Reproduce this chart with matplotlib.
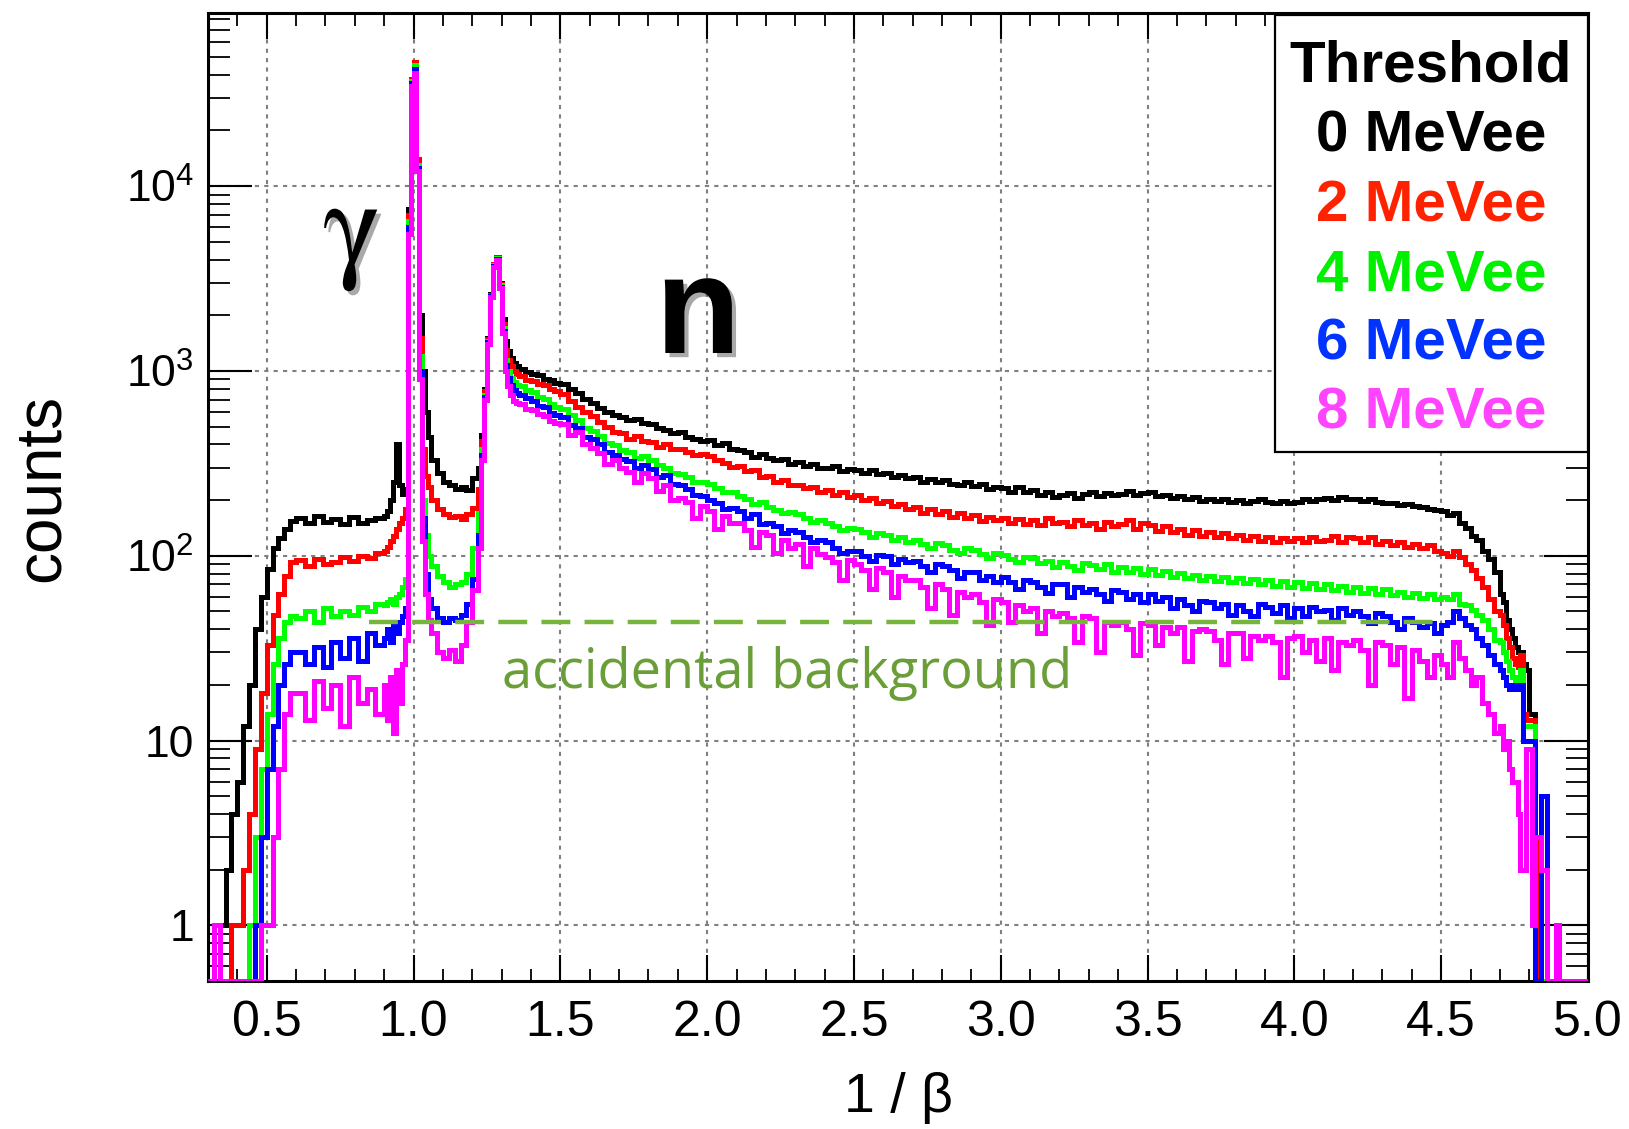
import numpy as np
import matplotlib
matplotlib.use('Agg')
import matplotlib.pyplot as plt
import matplotlib.patheffects as pe
from matplotlib.patches import Rectangle
from matplotlib.ticker import (FixedLocator, FixedFormatter, MultipleLocator,
                               LogLocator, NullFormatter, FormatStrFormatter)

plt.rcParams['font.family'] = ['Liberation Sans', 'DejaVu Sans']
plt.rcParams['mathtext.fontset'] = 'custom'
plt.rcParams['mathtext.rm'] = 'Liberation Sans'


def seg(a, b, n):
    return list(np.linspace(a, b, n, endpoint=False))


# 1/beta binning: finer bins around the gamma flash and the neutron peak
bin_edges = np.array(seg(0.30, 0.60, 15) + seg(0.60, 0.90, 10) + seg(0.90, 1.06, 16)
                     + seg(1.06, 1.22, 8) + seg(1.22, 1.36, 14) + seg(1.36, 1.50, 7)
                     + seg(1.50, 4.50, 120) + seg(4.50, 4.70, 10) + seg(4.70, 4.92, 22)
                     + [4.92, 5.00])

thresholds = [0, 2, 4, 6, 8]

counts_0mevee = [
    0, 1, 1, 2, 4, 6, 12, 20, 40, 60, 85, 110, 125, 140, 155,
    160, 150, 165, 152, 158, 148, 162, 150, 156, 160,
    165, 175, 200, 250, 400, 240, 215, 230, 7500, 37000, 44000, 14000, 2000, 1000, 600, 440,
    330, 280, 250, 240, 230, 235, 228, 265,
    300, 450, 800, 1500, 2600, 3800, 4150, 3000, 1900, 1450, 1280, 1180, 1110, 1060,
    1030, 985, 965, 950, 905, 895, 865,
    850, 800, 760, 705, 670, 630, 600, 575, 565, 540, 548, 520, 515, 490, 478, 462,
    465, 440, 430, 418, 425, 398, 405, 380, 372, 365, 342, 355, 340, 328, 335, 312,
    320, 306, 314, 300, 298, 305, 288, 296, 290, 282, 291, 276, 280, 268, 275, 262,
    266, 252, 260, 250, 256, 245, 240, 250, 238, 244, 230, 236, 232, 222, 236, 220,
    226, 214, 220, 208, 212, 218, 206, 216, 222, 210, 218, 214, 216, 224, 212, 218,
    220, 210, 214, 206, 210, 202, 208, 198, 204, 198, 202, 196, 200, 194, 198, 202,
    196, 192, 198, 194, 196, 202, 198, 204, 206, 200, 208, 204, 202, 198, 204, 196,
    194, 192, 188, 190, 186, 184, 180, 176,
    174, 166, 170, 150, 142, 128, 122, 106, 96, 82,
    62, 56, 45, 40, 36, 32, 30, 30, 26, 24, 14, 14, 0, 0, 0, 0, 0, 0, 0, 0, 0, 0,
    0,
]

counts_2mevee = [
    0, 0, 0, 0, 1, 1, 2, 4, 9, 18, 33, 48, 62, 78, 92,
    95, 88, 96, 90, 92, 98, 94, 100, 97, 104,
    106, 112, 120, 128, 140, 150, 160, 180, 7000, 38000, 47000, 14000, 1500, 380, 270, 235,
    200, 180, 168, 162, 165, 158, 168, 182,
    230, 420, 780, 1480, 2580, 3780, 4150, 2950, 1800, 1300, 1150, 1060, 1000, 960,
    935, 895, 880, 845, 835, 795, 775,
    750, 690, 640, 600, 570, 530, 500, 470, 462, 430, 445, 418, 415, 388, 402, 376,
    380, 362, 350, 356, 345, 328, 318, 302, 305, 286, 290, 268, 270, 252, 256, 240,
    242, 232, 236, 222, 228, 214, 222, 208, 212, 200, 206, 194, 198, 186, 190, 178,
    184, 170, 178, 168, 174, 162, 170, 160, 166, 154, 162, 156, 160, 150, 158, 148,
    156, 146, 160, 150, 152, 144, 156, 146, 150, 140, 152, 144, 148, 156, 140, 150,
    146, 136, 144, 134, 140, 130, 138, 128, 134, 126, 132, 124, 130, 122, 128, 120,
    126, 118, 124, 120, 124, 118, 126, 120, 122, 128, 118, 126, 124, 118, 126, 116,
    120, 114, 118, 112, 116, 110, 114, 106,
    104, 100, 106, 98, 90, 84, 76, 68, 58, 50,
    48, 42, 36, 32, 28, 26, 25, 29, 14, 13, 13, 13, 0, 3, 2, 2, 0, 0, 0, 0, 0, 0,
    0,
]

counts_4mevee = [
    0, 0, 0, 0, 0, 0, 0, 1, 3, 7, 14, 26, 36, 44, 47,
    46, 50, 44, 52, 47, 50, 48, 53, 50, 55,
    54, 56, 58, 55, 60, 62, 68, 75, 6500, 37000, 45000, 13000, 1200, 200, 130, 100,
    88, 78, 72, 68, 70, 72, 80, 110,
    170, 380, 740, 1450, 2550, 3750, 4100, 2900, 1700, 1150, 1000, 920, 870, 840,
    825, 785, 765, 725, 705, 665, 640,
    620, 575, 540, 490, 472, 445, 405, 395, 375, 362, 340, 345, 328, 310, 300, 280,
    278, 268, 250, 252, 244, 232, 220, 222, 210, 202, 190, 196, 184, 176, 170, 172,
    168, 160, 152, 156, 150, 145, 138, 142, 139, 134, 127, 132, 130, 122, 126, 118,
    121, 116, 110, 117, 114, 108, 104, 110, 107, 102, 97, 103, 101, 96, 92, 99,
    97, 91, 94, 87, 93, 88, 84, 91, 89, 85, 90, 82, 87, 82, 86, 80,
    85, 79, 83, 77, 81, 76, 79, 74, 78, 73, 77, 72, 76, 71, 75, 70,
    74, 69, 73, 68, 72, 67, 71, 66, 70, 65, 69, 64, 68, 63, 67, 62,
    66, 61, 64, 60, 63, 59, 62, 58,
    60, 58, 62, 55, 54, 51, 48, 45, 40, 35,
    34, 30, 27, 24, 22, 21, 21, 24, 12, 12, 12, 12, 0, 0, 0, 0, 0, 0, 0, 0, 0, 0,
    0,
]

counts_6mevee = [
    0, 0, 0, 0, 0, 0, 0, 0, 1, 3, 7, 12, 20, 26, 30,
    30, 26, 32, 25, 34, 28, 36, 27, 38, 33,
    36, 40, 34, 42, 38, 44, 47, 52, 6000, 36000, 43000, 12500, 1000, 160, 80, 58,
    52, 46, 44, 46, 45, 48, 55, 75,
    130, 350, 720, 1430, 2530, 3700, 4050, 2850, 1650, 1080, 920, 840, 790, 760,
    745, 710, 685, 645, 635, 595, 580,
    565, 510, 490, 440, 428, 400, 365, 352, 335, 325, 300, 310, 295, 268, 275, 245,
    242, 230, 212, 210, 200, 192, 178, 182, 174, 160, 168, 148, 150, 144, 132, 138,
    134, 126, 118, 122, 118, 110, 104, 106, 106, 100, 94, 101, 100, 90, 96, 92,
    94, 88, 82, 90, 88, 84, 76, 82, 82, 74, 78, 72, 77, 72, 66, 74,
    72, 68, 63, 70, 70, 60, 68, 64, 66, 62, 57, 65, 64, 58, 62, 56,
    62, 57, 60, 52, 58, 54, 50, 57, 56, 52, 55, 48, 54, 50, 47, 55,
    53, 49, 54, 46, 52, 47, 53, 50, 51, 45, 52, 48, 50, 47, 43, 49,
    47, 44, 40, 46, 44, 41, 43, 38,
    42, 44, 50, 46, 42, 40, 36, 33, 29, 26,
    24, 22, 20, 19, 20, 19, 20, 20, 10, 10, 10, 10, 0, 0, 5, 5, 0, 0, 0, 0, 0, 0,
    0,
]

counts_8mevee = [
    0, 1, 0, 0, 0, 0, 0, 0, 0, 1, 1, 3, 7, 14, 18,
    18, 13, 21, 15, 20, 12, 22, 16, 19, 14,
    20, 13, 22, 11, 24, 16, 26, 35, 5500, 35000, 41000, 12000, 900, 120, 62, 45,
    38, 30, 28, 31, 27, 33, 44, 65,
    110, 330, 700, 1400, 2500, 3650, 4000, 2800, 1600, 1000, 830, 740, 690, 670,
    665, 625, 615, 585, 570, 535, 525,
    515, 450, 470, 400, 385, 360, 315, 330, 300, 285, 250, 280, 262, 225, 240, 200,
    205, 195, 160, 185, 175, 140, 165, 150, 150, 138, 112, 135, 130, 104, 122, 110,
    116, 88, 110, 102, 98, 92, 74, 95, 90, 84, 66, 86, 82, 60, 78, 74,
    74, 68, 52, 70, 66, 48, 64, 60, 62, 56, 42, 58, 56, 44, 54, 50,
    52, 38, 50, 47, 49, 46, 34, 47, 46, 30, 44, 42, 44, 40, 29, 43,
    42, 33, 41, 38, 41, 27, 39, 40, 39, 35, 26, 38, 38, 28, 37, 35,
    37, 34, 22, 36, 37, 30, 35, 27, 36, 24, 34, 33, 35, 31, 20, 34,
    33, 26, 32, 17, 31, 27, 22, 29,
    26, 22, 34, 28, 24, 20, 22, 16, 14, 11,
    12, 9, 10, 7, 6, 6, 4, 2, 2, 9, 9, 1, 3, 3, 2, 2, 0, 0, 0, 1, 0, 0,
    0,
]

all_counts = [counts_0mevee, counts_2mevee, counts_4mevee, counts_6mevee, counts_8mevee]
line_colors = ['#000000', '#ff0000', '#00ff00', '#0000ff', '#ff00ff']
text_colors = ['#000000', '#ff2200', '#00f000', '#0033ff', '#ff44ff']

# flat accidental level under the spectra
accidental_level = 44
accidental_range = (0.85, 4.48)

W, H = 1629, 1129
YMIN, YMAX = 0.5, 8.7e4

fig = plt.figure(figsize=(W / 100, H / 100), dpi=100)
ax = fig.add_axes([208 / W, 1 - 981 / H, 1380 / W, 968.5 / H])


def fpos(x, y):
    # pixel position in the figure -> figure fraction
    return x / W, 1 - y / H


for counts, color in zip(all_counts, line_colors):
    vals = np.clip(np.asarray(counts, dtype=float), YMIN, None)
    ax.stairs(vals, bin_edges, baseline=None, color=color, lw=3.6, zorder=3)

ax.plot(accidental_range, [accidental_level] * 2, color='#77b43c', lw=3.2,
        dashes=(6.5, 3.2), zorder=4)

ax.set_yscale('log')
ax.set_xlim(0.3, 5.0)
ax.set_ylim(YMIN, YMAX)

ax.xaxis.set_major_locator(MultipleLocator(0.5))
ax.xaxis.set_minor_locator(MultipleLocator(0.1))
ax.xaxis.set_major_formatter(FormatStrFormatter('%.1f'))
ax.yaxis.set_major_locator(FixedLocator([1, 10, 100, 1000, 10000]))
ax.yaxis.set_major_formatter(FixedFormatter(['1', '10', r'$\mathregular{10^{2}}$',
                                             r'$\mathregular{10^{3}}$',
                                             r'$\mathregular{10^{4}}$']))
ax.yaxis.set_minor_locator(LogLocator(base=10, subs=np.arange(2, 10), numticks=20))
ax.yaxis.set_minor_formatter(NullFormatter())

ax.tick_params(axis='x', which='major', direction='in', length=19, width=1.5,
               top=True, bottom=True, pad=14, labelsize=36)
ax.tick_params(axis='x', which='minor', direction='in', length=9, width=1.3,
               top=True, bottom=True)
ax.tick_params(axis='y', which='major', direction='in', length=32, width=1.5,
               left=True, right=True, pad=10, labelsize=32)
ax.tick_params(axis='y', which='minor', direction='in', length=16, width=1.3,
               left=True, right=True)

ax.grid(True, which='major', color='#808080', linestyle=(0, (2, 2.5)), linewidth=1.5)
ax.set_axisbelow(True)
for sp in ax.spines.values():
    sp.set_linewidth(2.2)

fig.text(*fpos(42, 488), 'counts', rotation=90, ha='center', va='center', fontsize=46)
fig.text(*fpos(898, 1098), '1 / β', ha='center', va='center', fontsize=40)

# threshold box
ax.add_patch(Rectangle((0.773, 0.546), 0.227, 0.4515, transform=ax.transAxes,
                       facecolor='white', edgecolor='black', lw=1.6, zorder=5))
fig.text(*fpos(1431, 82), 'Threshold', ha='center', va='baseline',
         fontsize=42, fontweight='bold', zorder=6)
for i, (thr, color) in enumerate(zip(thresholds, text_colors)):
    fig.text(*fpos(1431, 152 + 69.2 * i), f'{thr} MeVee', ha='center', va='baseline',
             fontsize=42, fontweight='bold', color=color, zorder=6)

shadow = [pe.withSimplePatchShadow(offset=(3, -3), shadow_rgbFace='0.25', alpha=0.45)]
fig.text(*fpos(352, 236), 'γ', ha='center', va='center', fontsize=88,
         family='STIXGeneral', path_effects=shadow)
fig.text(*fpos(698, 353), 'n', ha='center', va='baseline', fontsize=100,
         fontweight='bold', path_effects=shadow)
fig.text(*fpos(787, 688), 'accidental background', ha='center', va='baseline',
         fontsize=39, family='Open Sans', color='#6a9e38')

fig.savefig('out.png', dpi=100)
